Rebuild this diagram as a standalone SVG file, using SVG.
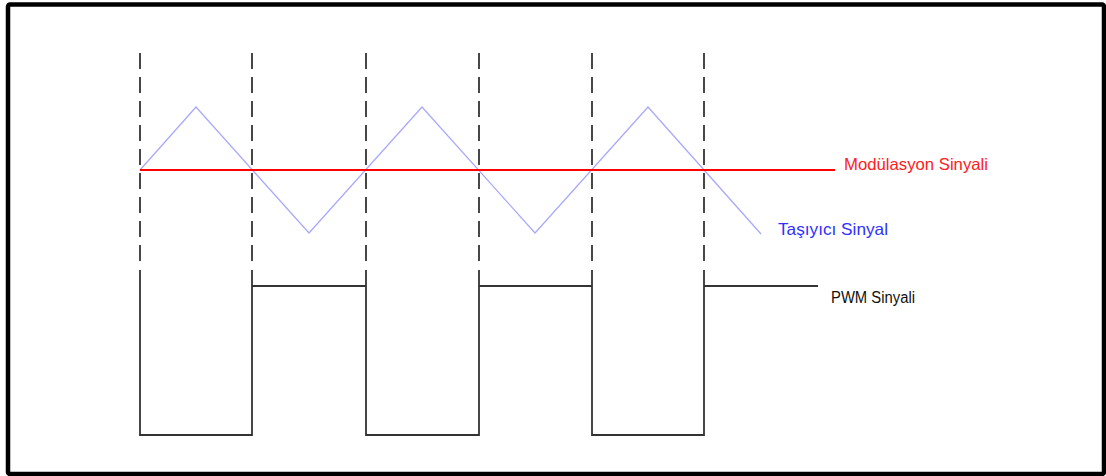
<svg xmlns="http://www.w3.org/2000/svg" width="1106" height="476" viewBox="0 0 1106 476">
<style>
.frame{fill:#fff;stroke:#000;stroke-width:4.5}
.dash{fill:none;stroke:#333;stroke-width:1.8;stroke-dasharray:16 8}
.pwm{fill:none;stroke:#333;stroke-width:1.8}
.carrier{fill:none;stroke:#a8a8ff;stroke-width:1.3}
.mod{fill:none;stroke:#ff0000;stroke-width:1.8}
.lbl{font-family:"Liberation Sans",Arial,sans-serif;font-size:16.5px}
</style>
<rect class="frame" x="8" y="4.5" width="1096" height="469.5" rx="2"/>
<g id="grid">
<line class="dash" x1="140" y1="53" x2="140" y2="262"/>
<line class="dash" x1="252" y1="53" x2="252" y2="262"/>
<line class="dash" x1="366" y1="53" x2="366" y2="262"/>
<line class="dash" x1="479" y1="53" x2="479" y2="262"/>
<line class="dash" x1="592" y1="53" x2="592" y2="262"/>
<line class="dash" x1="704" y1="53" x2="704" y2="262"/>
</g>
<g id="carrier">
<polyline class="carrier" points="140,170 196,107 309,233 422,107 535,233 648,107 761,234"/>
</g>
<g id="modulation">
<line class="mod" x1="140" y1="170" x2="835" y2="170"/>
</g>
<g id="pwm">
<path class="pwm" d="M140,270 V435 H252 V270 M252,286 H366 M366,270 V435 H479 V270 M479,286 H592 M592,270 V435 H704 V270 M704,286 H818"/>
</g>
<g id="labels">
<text class="lbl" x="844" y="170" fill="#ff2020" textLength="144" lengthAdjust="spacingAndGlyphs">Modülasyon Sinyali</text>
<text class="lbl" x="778" y="234.5" fill="#3030ff" textLength="110" lengthAdjust="spacingAndGlyphs">Taşıyıcı Sinyal</text>
<text class="lbl" x="831" y="303" fill="#111" style="font-size:16px" textLength="84" lengthAdjust="spacingAndGlyphs">PWM Sinyali</text>
</g>
</svg>
